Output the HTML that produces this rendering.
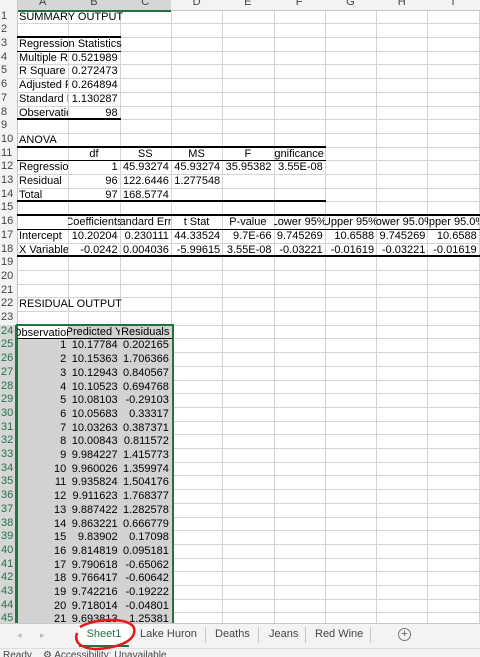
<!DOCTYPE html>
<html><head><meta charset="utf-8">
<style>
body{margin:0;width:480px;height:656px;overflow:hidden;background:#fff;font-family:"Liberation Sans",Arial,sans-serif;font-size:11px;color:#000;position:relative}
.c{position:absolute;white-space:nowrap;overflow:visible;line-height:13.7px;height:13.7px}
.r{text-align:right}
.gl{position:absolute;background:#d9d9d9}
.bd{position:absolute;background:#000}
#grid{position:absolute;left:0;top:0;width:480px;height:623px;overflow:hidden}
</style></head><body>
<div id="grid"></div>
<div style="position:absolute;left:0;top:623px;width:480px;height:25px;background:#f3f3f3;border-top:1px solid #c8c8c8">
  <div style="position:absolute;left:17px;top:6px;color:#bbb;font-size:9px">◂</div>
  <div style="position:absolute;left:40px;top:6px;color:#bbb;font-size:9px">▸</div>
  <div style="position:absolute;left:79px;top:0;width:50px;height:21px;background:#fff;color:#217346;text-align:center;line-height:20px;border-bottom:2px solid #217346">Sheet1</div>
  <div style="position:absolute;left:140px;top:0;line-height:20px;color:#444">Lake Huron</div>
  <div style="position:absolute;left:205px;top:3px;width:1px;height:16px;background:#c6c6c6"></div>
  <div style="position:absolute;left:215px;top:0;line-height:20px;color:#444">Deaths</div>
  <div style="position:absolute;left:258px;top:3px;width:1px;height:16px;background:#c6c6c6"></div>
  <div style="position:absolute;left:269px;top:0;line-height:20px;color:#444">Jeans</div>
  <div style="position:absolute;left:305px;top:3px;width:1px;height:16px;background:#c6c6c6"></div>
  <div style="position:absolute;left:315px;top:0;line-height:20px;color:#444">Red Wine</div>
  <div style="position:absolute;left:370px;top:3px;width:1px;height:16px;background:#c6c6c6"></div>
  <div style="position:absolute;left:398px;top:4px;width:11px;height:11px;border:1px solid #777;border-radius:50%;color:#555;font-size:11px;line-height:11px;text-align:center">+</div>
</div>
<div style="position:absolute;left:0;top:648px;width:480px;height:8px;background:#f3f3f3;overflow:hidden;border-top:1px solid #ddd">
  <div style="position:absolute;left:3px;top:1px;font-size:10px;color:#444">Ready &nbsp;&nbsp; ⚙ Accessibility: Unavailable</div>
</div>
<svg style="position:absolute;left:0;top:0" width="480" height="656"><path d="M80 627 C95 618,130 617,134 628 C137 640,120 648,95 649 C80 648,74 642,77 633" fill="none" stroke="#e81818" stroke-width="2.5"/></svg>
<script>
const cols=['A','B','C','D','E','F','G','H','I'];
const X0=17,CW=51.3,Y0=9.6,RH=13.7,HDR=9.6;
const g=document.getElementById('grid');
function L(c){return X0+c*CW}
function T(r){return Y0+(r-1)*RH}
function add(html,css,name){const d=document.createElement('div');d.innerHTML=html;d.style.cssText=css;


g.appendChild(d);return d;}
// selection background
add('','position:absolute;left:'+L(0)+'px;top:'+T(24)+'px;width:'+(3*CW)+'px;height:'+(22*RH)+'px;background:#d2d2d2','selection-range');
// gridlines
for(let c=0;c<=9;c++){add('','position:absolute;left:'+L(c)+'px;top:0;width:1px;height:623px;background:#d4d4d4','col-gridline')}
for(let r=1;r<=47;r++){add('','position:absolute;left:0;top:'+T(r)+'px;width:480px;height:1px;background:#d4d4d4','row-gridline')}
// headers
add('','position:absolute;left:0;top:0;width:480px;height:'+HDR+'px;background:#f3f3f3;border-bottom:1px solid #c6c6c6;overflow:hidden','column-header-bar');
add('','position:absolute;left:'+L(0)+'px;top:0;width:'+(3*CW)+'px;height:'+HDR+'px;background:#d6d6d6;border-bottom:2px solid #217346','selected-column-headers');
cols.forEach((n,i)=>{const d=add(n,'position:absolute;left:'+L(i)+'px;top:-4px;width:'+CW+'px;text-align:center;color:#444;font-size:11px','column-header-'+n);});
add('','position:absolute;left:0;top:0;width:'+X0+'px;height:623px;background:#f3f3f3;border-right:1px solid #c6c6c6','row-header-bar');
add('','position:absolute;left:0;top:'+T(24)+'px;width:'+X0+'px;height:'+(22*RH)+'px;background:#d6d6d6;border-right:2px solid #217346;box-sizing:border-box','selected-row-headers');
for(let r=1;r<=46;r++){add(String(r),'position:absolute;left:1px;top:'+T(r)+'px;line-height:'+RH+'px;font-size:11px;color:'+(r>=24?'#217346':'#444'),'row-header-'+r);}
const cells=[
[1,0,'SUMMARY OUTPUT','l'],[3,0,'Regression Statistics','l'],
[4,0,'Multiple R','l'],[4,1,'0.521989','r'],[5,0,'R Square','l'],[5,1,'0.272473','r'],
[6,0,'Adjusted R Square','l'],[6,1,'0.264894','r'],[7,0,'Standard Error','l'],[7,1,'1.130287','r'],
[8,0,'Observations','l'],[8,1,'98','r'],[10,0,'ANOVA','l'],
[11,1,'df','c'],[11,2,'SS','c'],[11,3,'MS','c'],[11,4,'F','c'],[11,5,'Significance F','c'],
[12,0,'Regression','l'],[12,1,'1','r'],[12,2,'45.93274','r'],[12,3,'45.93274','r'],[12,4,'35.95382','r'],[12,5,'3.55E-08','r'],
[13,0,'Residual','l'],[13,1,'96','r'],[13,2,'122.6446','r'],[13,3,'1.277548','r'],
[14,0,'Total','l'],[14,1,'97','r'],[14,2,'168.5774','r'],
[16,1,'Coefficients','c'],[16,2,'Standard Error','c'],[16,3,'t Stat','c'],[16,4,'P-value','c'],[16,5,'Lower 95%','c'],[16,6,'Upper 95%','c'],[16,7,'Lower 95.0%','c'],[16,8,'Upper 95.0%','c'],
[17,0,'Intercept','l'],[17,1,'10.20204','r'],[17,2,'0.230111','r'],[17,3,'44.33524','r'],[17,4,'9.7E-66','r'],[17,5,'9.745269','r'],[17,6,'10.6588','r'],[17,7,'9.745269','r'],[17,8,'10.6588','r'],
[18,0,'X Variable 1','l'],[18,1,'-0.0242','r'],[18,2,'0.004036','r'],[18,3,'-5.99615','r'],[18,4,'3.55E-08','r'],[18,5,'-0.03221','r'],[18,6,'-0.01619','r'],[18,7,'-0.03221','r'],[18,8,'-0.01619','r'],
[22,0,'RESIDUAL OUTPUT','l'],[24,0,'Observation','c'],[24,1,'Predicted Y','c'],[24,2,'Residuals','c']];
const pred=['10.17784','10.15363','10.12943','10.10523','10.08103','10.05683','10.03263','10.00843','9.984227','9.960026','9.935824','9.911623','9.887422','9.863221','9.83902','9.814819','9.790618','9.766417','9.742216','9.718014','9.693813'];
const resid=['0.202165','1.706366','0.840567','0.694768','-0.29103','0.33317','0.387371','0.811572','1.415773','1.359974','1.504176','1.768377','1.282578','0.666779','0.17098','0.095181','-0.65062','-0.60642','-0.19222','-0.04801','1.25381'];
pred.forEach((p,i)=>{cells.push([25+i,0,String(i+1),'r']);cells.push([25+i,1,p,'r']);cells.push([25+i,2,resid[i],'r']);});
// determine clipping: left text overflow clipped if next cell non-empty
const filled={};cells.forEach(c=>filled[c[0]+'_'+c[1]]=1);
cells.forEach(([r,c,t,a])=>{
 let css='position:absolute;top:'+T(r)+'px;height:'+RH+'px;line-height:'+(RH+1)+'px;overflow:hidden;white-space:nowrap;';
 if(a==='l'){const w=filled[r+'_'+(c+1)]?CW-2:CW*3;css+='left:'+(L(c)+2)+'px;width:'+w+'px;';}
 else if(a==='r'){css+='left:'+L(c)+'px;width:'+(CW-2)+'px;text-align:right;';}
 else {css+='left:'+L(c)+'px;width:'+CW+'px;display:flex;justify-content:center;';t='<span style="flex:none">'+t+'</span>';}
 add(t,css,'cell-'+cols[c]+r);
});
// borders
function hb(r,c0,c1,th){add('','position:absolute;left:'+L(c0)+'px;top:'+(T(r)-(th>1?1:0))+'px;width:'+(L(c1)-L(c0)+1)+'px;height:'+th+'px;background:#000','table-border')}
hb(3,0,2,2);hb(4,0,2,1);hb(9,0,2,2);
hb(11,0,6,2);hb(12,0,6,1);hb(15,0,6,2);
hb(16,0,9,2);hb(17,0,9,1);hb(19,0,9,2);
hb(25,0,3,1);
add('','position:absolute;left:'+(L(0)-1)+'px;top:'+(T(24)-1)+'px;width:'+(3*CW)+'px;height:'+(22*RH)+'px;border:2px solid #217346','selection-border');
add('','position:absolute;left:'+(L(0)+1)+'px;top:'+(T(24)+1)+'px;width:'+(CW-2)+'px;height:'+(RH-1)+'px;background:#fff','active-cell');
add('<div style="display:flex;justify-content:center;line-height:'+(RH+1)+'px"><span style="flex:none">Observation</span></div>','position:absolute;left:'+L(0)+'px;top:'+(T(24)+1)+'px;width:'+CW+'px;height:'+(RH-1)+'px;overflow:hidden','cell-A24-text');
</script>
</body></html>
